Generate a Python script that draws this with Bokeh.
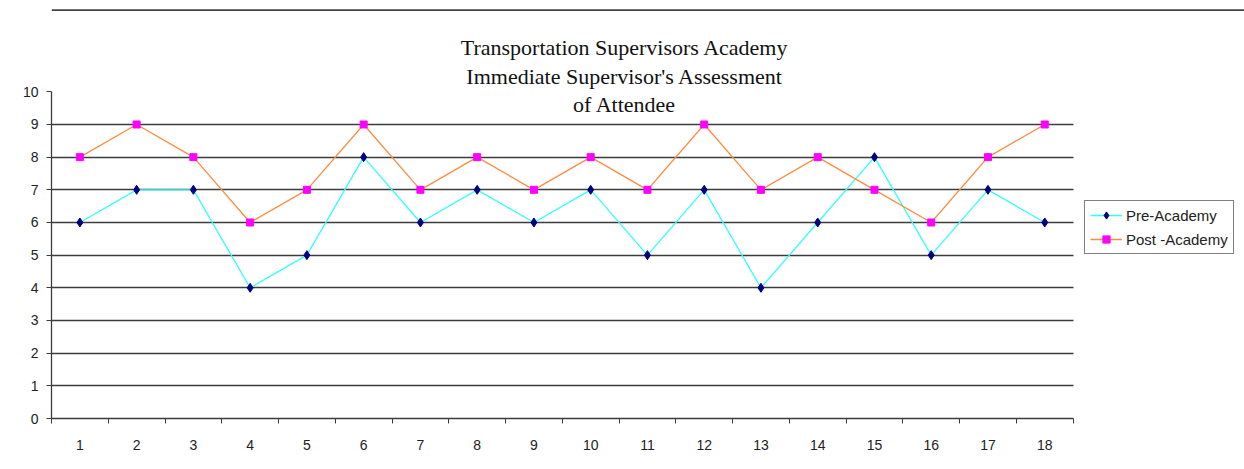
from bokeh.plotting import figure
from bokeh.models import Range1d, FixedTicker, Legend, LegendItem, Label, Span, Grid
from bokeh.embed import file_html
from bokeh.resources import INLINE

# ---- data ----
attendees = [1, 2, 3, 4, 5, 6, 7, 8, 9, 10, 11, 12, 13, 14, 15, 16, 17, 18]
pre_academy = [6, 7, 7, 4, 5, 8, 6, 7, 6, 7, 5, 7, 4, 6, 8, 5, 7, 6]
post_academy = [8, 9, 8, 6, 7, 9, 7, 8, 7, 8, 7, 9, 7, 8, 7, 6, 8, 9]
series_names = ["Pre-Academy", "Post -Academy"]
title_lines = ["Transportation Supervisors Academy",
               "Immediate Supervisor's Assessment",
               "of Attendee"]
y_ticks = [0, 1, 2, 3, 4, 5, 6, 7, 8, 9, 10]
grid_ticks = [1, 2, 3, 4, 5, 6, 7, 8, 9]

FONT = "Liberation Sans"
AXIS_COLOR = "#3c3c3c"

# plot area spans the category axis 0.5..18.5 and value axis 0..10;
# the frame is enlarged so that the title and legend sit inside it
X0, X1 = 0.5, 21.52
Y0, Y1 = 0, 12.795

p = figure(width=1244, height=469,
           x_range=Range1d(X0, X1), y_range=Range1d(Y0, Y1),
           output_backend="svg", toolbar_location=None,
           min_border_left=51, min_border_right=0,
           min_border_top=0, min_border_bottom=51)
p.outline_line_color = None
p.background_fill_color = "white"
p.border_fill_color = "white"

# grid
p.xgrid.visible = False
p.ygrid.ticker = FixedTicker(ticks=grid_ticks)
p.ygrid.grid_line_color = AXIS_COLOR
p.ygrid.grid_line_width = 1.3
if "cross_bounds" in Grid.properties():
    p.ygrid.cross_bounds = (0.5, 18.5)

# y axis
ya = p.yaxis[0]
ya.ticker = FixedTicker(ticks=y_ticks)
ya.bounds = (0, 10)
ya.axis_line_color = AXIS_COLOR
ya.axis_line_width = 1.3
ya.major_tick_line_color = AXIS_COLOR
ya.major_tick_in = 0
ya.major_tick_out = 5
ya.minor_tick_line_color = None
ya.major_label_standoff = 8
ya.major_label_text_font = FONT
ya.major_label_text_font_size = "14px"
ya.major_label_text_color = "#222222"

# x axis: labels at category centres, ticks between categories
xa = p.xaxis[0]
xa.ticker = FixedTicker(ticks=attendees,
                        minor_ticks=[a - 0.5 for a in attendees] + [attendees[-1] + 0.5])
xa.bounds = (0.5, 18.5)
xa.axis_line_color = AXIS_COLOR
xa.axis_line_width = 1.3
xa.major_tick_line_color = None
xa.major_tick_in = 0
xa.major_tick_out = 0
xa.minor_tick_line_color = AXIS_COLOR
xa.minor_tick_in = 0
xa.minor_tick_out = 5
xa.major_label_standoff = 16
xa.major_label_text_font = FONT
xa.major_label_text_font_size = "14px"
xa.major_label_text_color = "#222222"

# spreadsheet header line along the top
p.add_layout(Span(location=12.50, dimension="width",
                  line_color="#444444", line_width=1.6))

# series
l1 = p.line(attendees, pre_academy, line_color="#33FFFF", line_width=1.3)
s1 = p.scatter(attendees, pre_academy, marker="diamond", size=9,
               fill_color="#000080", line_color="#000080")
l2 = p.line(attendees, post_academy, line_color="#FF8C40", line_width=1.3)
s2 = p.scatter(attendees, post_academy, marker="square", size=7,
               fill_color="#FF00FF", line_color="#FF00FF")

legend = Legend(items=[LegendItem(label=series_names[0], renderers=[l1, s1]),
                       LegendItem(label=series_names[1], renderers=[l2, s2])],
                location=(1033, 164), margin=0,
                border_line_color="black", border_line_width=1,
                background_fill_color="white", background_fill_alpha=1,
                label_text_font=FONT, label_text_font_size="15px",
                label_text_color="#222222",
                glyph_width=32, glyph_height=18, label_height=18,
                spacing=6, padding=5, label_standoff=4)
p.add_layout(legend)

# title (overlaps the plot area as in the original)
for line_text, yy in zip(title_lines, [11.37, 10.48, 9.60]):
    p.add_layout(Label(x=10.6, y=yy, text=line_text,
                       text_font="Liberation Serif", text_font_size="22px",
                       text_align="center", text_baseline="middle",
                       text_color="#111111"))

open("out.html", "w").write(file_html(p, INLINE))
